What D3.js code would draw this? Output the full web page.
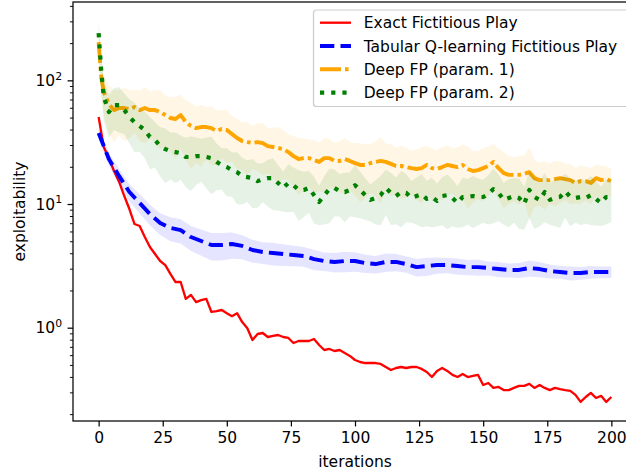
<!DOCTYPE html>
<html>
<head>
<meta charset="utf-8">
<script src="https://cdn.jsdelivr.net/npm/d3@7"></script>
<style>
	body { margin: 0; background: #fff; }
	text { font-family: "DejaVu Sans", sans-serif; }
</style>
</head>
<body>
<svg id="chart" width="626" height="474"></svg>
<script>
/* values */
const exactIters = d3.range(0, 201, 2);
const exactFP = [50.5, 28.9, 23.5, 18.5, 15.1, 11.6, 9.11, 6.89, 6.64, 5.41,
	4.49, 3.94, 3.46, 3.21, 2.72, 2.34, 2.34, 1.71, 1.84, 1.61,
	1.67, 1.71, 1.34, 1.36, 1.39, 1.31, 1.24, 1.31, 1.11, 0.99,
	0.795, 0.889, 0.906, 0.841, 0.857, 0.873, 0.841, 0.826, 0.752, 0.781,
	0.781, 0.781, 0.810, 0.725, 0.660, 0.673, 0.648, 0.660, 0.625, 0.591,
	0.548, 0.528, 0.518, 0.518, 0.518, 0.509, 0.481, 0.455, 0.472, 0.481,
	0.472, 0.481, 0.481, 0.464, 0.438, 0.399, 0.447, 0.472, 0.447, 0.415,
	0.399, 0.422, 0.399, 0.407, 0.415, 0.344, 0.357, 0.326, 0.332, 0.313,
	0.313, 0.326, 0.338, 0.338, 0.351, 0.326, 0.344, 0.326, 0.313, 0.326,
	0.319, 0.313, 0.308, 0.286, 0.251, 0.275, 0.297, 0.270, 0.281, 0.251,
	0.275];

const tabularIters = d3.range(0, 201, 4);
const tabularQ = [37.5, 23.1, 16.8, 12.5, 10.2, 8.30, 7.02, 6.40, 6.16, 5.41,
	5.02, 4.66, 4.66, 4.75, 4.58, 4.25, 4.09, 4.02, 3.94, 3.87,
	3.80, 3.59, 3.46, 3.40, 3.46, 3.46, 3.33, 3.27, 3.40, 3.40,
	3.27, 3.09, 3.15, 3.21, 3.21, 3.15, 3.09, 3.09, 3.04, 2.98,
	2.93, 2.93, 3.04, 2.98, 2.87, 2.82, 2.77, 2.77, 2.82, 2.82,
	2.82];
// std relative to the mean
const tabularSpread = [.10, .12, .14, .16, .18, .19, .20, .22, .22, .23,
	.24, .25, .25, .24, .22, .21, .20, .21, .20, .19,
	.18, .19, .17, .18, .19, .18, .17, .16, .17, .16,
	.15, .16, .17, .15, .14, .15, .14, .15, .13, .14,
	.13, .14, .15, .14, .13, .12, .13, .12, .12, .11,
	.11];

const deepIters = [0, 1].concat(d3.range(2, 201, 2));
const deepFP1 = [204, 106, 80.4, 64.3, 57.5, 59.7, 59.7, 58.6, 60.8, 57.5,
	59.7, 57.5, 57.5, 55.4, 52.4, 49.6, 48.7, 52.4, 46.0, 42.7,
	41.1, 41.9, 41.9, 41.1, 38.9, 40.4, 39.7, 36.8, 34.2, 32.3,
	31.7, 31.1, 31.7, 31.1, 29.4, 28.9, 28.4, 27.8, 26.3, 24.4,
	23.1, 23.5, 23.5, 22.7, 21.9, 23.5, 23.5, 22.3, 22.3, 23.1,
	22.3, 21.4, 20.7, 20.7, 21.4, 21.9, 22.3, 21.9, 21.1, 20.3,
	20.3, 19.9, 19.5, 19.2, 19.5, 20.7, 19.5, 19.2, 19.9, 20.7,
	20.3, 19.9, 20.7, 19.2, 18.5, 18.8, 19.5, 20.3, 21.9, 19.5,
	17.8, 17.2, 17.2, 17.2, 17.5, 18.1, 16.2, 15.6, 15.6, 15.6,
	15.9, 16.2, 15.9, 15.6, 14.8, 15.3, 15.3, 14.8, 16.2, 15.6,
	15.9, 15.3];
const deepFP1Spread = [.30, .32, .36, .42, .45, .40, .46, .42, .38, .44,
	.48, .41, .45, .50, .44, .47, .52, .46, .50, .55,
	.48, .52, .45, .50, .47, .42, .46, .40, .44, .41,
	.46, .38, .42, .45, .40, .44, .48, .43, .40, .45,
	.49, .44, .41, .46, .42, .47, .43, .40, .44, .48,
	.42, .45, .50, .46, .43, .47, .55, .40, .45, .41,
	.46, .43, .39, .44, .48, .42, .45, .41, .46, .43,
	.40, .44, .47, .52, .45, .42, .46, .43, .40, .44,
	.48, .42, .39, .43, .40, .58, .41, .38, .42, .36,
	.40, .37, .33, .36, .32, .35, .30, .33, .28, .31,
	.27, .25];

const deepFP2 = [241, 121, 73.3, 55.4, 63.1, 63.1, 57.5, 50.5, 46.0, 42.7,
	39.7, 34.8, 32.9, 29.4, 27.8, 26.8, 26.3, 25.8, 24.0, 24.0,
	24.4, 24.4, 24.0, 23.5, 21.9, 20.7, 19.9, 18.8, 18.1, 16.8,
	16.5, 16.2, 15.3, 15.9, 16.2, 16.2, 14.8, 13.5, 14.8, 14.2,
	13.0, 13.0, 13.5, 11.8, 10.4, 11.8, 13.2, 13.5, 12.7, 12.5,
	13.0, 14.2, 13.0, 11.8, 10.8, 11.2, 11.8, 13.5, 12.3, 11.6,
	12.5, 12.3, 11.2, 11.6, 12.0, 11.0, 11.4, 10.6, 11.6, 11.8,
	11.2, 10.2, 11.4, 11.4, 11.6, 11.4, 11.4, 12.0, 13.2, 12.3,
	10.8, 11.2, 11.6, 11.2, 10.0, 13.0, 11.4, 10.8, 12.5, 10.8,
	11.2, 11.4, 12.7, 11.4, 11.2, 11.4, 11.2, 11.8, 11.0, 10.2,
	11.4, 11.4];
const deepFP2Spread = [.27, .30, .36, .38, .37, .40, .36, .39, .43, .38,
	.41, .45, .40, .43, .47, .41, .44, .39, .43, .47,
	.42, .38, .44, .49, .41, .37, .42, .39, .45, .41,
	.37, .43, .39, .35, .41, .45, .40, .36, .42, .39,
	.44, .40, .37, .41, .35, .42, .47, .41, .38, .43,
	.39, .45, .41, .37, .33, .39, .43, .40, .45, .41,
	.48, .42, .37, .41, .46, .40, .43, .38, .42, .47,
	.41, .37, .43, .40, .45, .41, .38, .43, .47, .41,
	.37, .42, .39, .44, .38, .41, .45, .39, .43, .37,
	.41, .44, .39, .42, .37, .41, .38, .43, .39, .35,
	.40, .37];

const seriesNames = ["Exact Fictitious Play", "Tabular Q-learning Fictitious Play",
	"Deep FP (param. 1)", "Deep FP (param. 2)"];
const xTicks = [0, 25, 50, 75, 100, 125, 150, 175, 200];
const yTickExps = [0, 1, 2];

const pt = 1.55; // px per point in the picture
const fontSize = 10 * pt;

const series = [
	{name: seriesNames[0], xs: exactIters, ys: exactFP, spread: null, color: "#ff0000", width: 1.5 * pt, dash: null},
	{name: seriesNames[1], xs: tabularIters, ys: tabularQ, spread: tabularSpread, color: "#0000ff", width: 3.9, dash: "14.3,6.2"},
	{name: seriesNames[2], xs: deepIters, ys: deepFP1, spread: deepFP1Spread, color: "#ffa500", width: 3.9, dash: "21,4,3.6,4"},
	{name: seriesNames[3], xs: deepIters, ys: deepFP2, spread: deepFP2Spread, color: "#008000", width: 4.2, dash: "4.2,7"}
];

let svg = d3.select("#chart");
// axes box in px (right edge lies past the picture, as in the reference)
let m_left = 73, m_right = 637, m_top = 2, m_bottom = 421;

let x = d3.scaleLinear().domain([-10, 210]).range([m_left, m_right]);
let y = d3.scaleLog().domain([0.176, 430]).range([m_bottom, m_top]);

svg.append("defs").append("clipPath").attr("id", "plotclip")
	.append("rect").attr("x", m_left).attr("y", m_top).attr("width", m_right - m_left).attr("height", m_bottom - m_top);

let plot = svg.append("g").attr("clip-path", "url(#plotclip)");

series.forEach(s => {
	let pts = s.xs.map((it, i) => ({it: it, v: s.ys[i], r: s.spread ? s.spread[i] : 0}));
	let line = d3.line().x(d => x(d.it)).y(d => y(d.v));
	plot.append("path")
		.attr("d", line(pts))
		.attr("fill", "none")
		.attr("stroke", s.color)
		.attr("stroke-width", s.width)
		.attr("stroke-linejoin", "round")
		.attr("stroke-dasharray", s.dash);
	if (s.spread) {
		// band = mean +/- std
		let area = d3.area()
			.x(d => x(d.it))
			.y0(d => y(d.v * (1 - d.r)))
			.y1(d => y(d.v * (1 + d.r)));
		plot.append("path")
			.attr("d", area(pts))
			.attr("fill", s.color)
			.attr("fill-opacity", 0.1);
	}
});

// x axis
let xaxis = svg.append("g")
	.attr("transform", `translate(0, ${m_bottom})`)
	.call(d3.axisBottom(x).tickValues(xTicks).tickSize(3.5 * pt).tickPadding(3.5 * pt).tickSizeOuter(0));
xaxis.select(".domain").remove();
xaxis.selectAll("line").attr("stroke", "#000").attr("stroke-width", 0.8 * pt);
xaxis.selectAll("text").attr("font-size", fontSize).attr("fill", "#000")
	.attr("font-family", "DejaVu Sans, sans-serif");

// y axis: minor ticks
let minors = y.ticks().filter(v => Math.abs(Math.log10(v) - Math.round(Math.log10(v))) > 1e-6);
let yminor = svg.append("g")
	.attr("transform", `translate(${m_left}, 0)`)
	.call(d3.axisLeft(y).tickValues(minors).tickSize(2 * pt).tickFormat("").tickSizeOuter(0));
yminor.select(".domain").remove();
yminor.selectAll("line").attr("stroke", "#000").attr("stroke-width", 0.6 * pt);

// y axis: major ticks with 10^n labels
let ymajor = svg.append("g")
	.attr("transform", `translate(${m_left}, 0)`)
	.call(d3.axisLeft(y).tickValues(yTickExps.map(e => Math.pow(10, e))).tickSize(3.5 * pt).tickFormat("").tickSizeOuter(0));
ymajor.select(".domain").remove();
ymajor.selectAll("line").attr("stroke", "#000").attr("stroke-width", 0.8 * pt);

yTickExps.forEach(e => {
	let ty = y(Math.pow(10, e));
	let t = svg.append("text")
		.attr("x", m_left - 7 * pt)
		.attr("y", ty + 5.6)
		.attr("text-anchor", "end")
		.attr("font-size", fontSize)
		.attr("fill", "#000");
	t.append("tspan").text("10");
	t.append("tspan").attr("font-size", fontSize * 0.7).attr("dy", -6.3).text(e);
});

// spines
svg.append("rect")
	.attr("x", m_left).attr("y", m_top)
	.attr("width", m_right - m_left).attr("height", m_bottom - m_top)
	.attr("fill", "none").attr("stroke", "#000").attr("stroke-width", 0.8 * pt);

// axis labels
svg.append("text")
	.attr("x", (m_left + m_right) / 2).attr("y", 467)
	.attr("text-anchor", "middle").attr("font-size", fontSize)
	.text("iterations");
svg.append("text")
	.attr("transform", `translate(25, ${(m_top + m_bottom) / 2}) rotate(-90)`)
	.attr("text-anchor", "middle").attr("font-size", fontSize)
	.text("exploitability");

// legend
let legend = svg.append("g");
legend.append("rect")
	.attr("x", 313.5).attr("y", 10)
	.attr("width", 320).attr("height", 96.5)
	.attr("rx", 0.2 * fontSize)
	.attr("fill", "#fff").attr("fill-opacity", 0.8)
	.attr("stroke", "#cccccc").attr("stroke-width", 0.8 * pt);

series.forEach((s, i) => {
	let ly = 22.7 + 23.3 * i;
	legend.append("line")
		.attr("x1", 320).attr("x2", 351)
		.attr("y1", ly).attr("y2", ly)
		.attr("stroke", s.color)
		.attr("stroke-width", s.width)
		.attr("stroke-dasharray", s.dash);
	legend.append("text")
		.attr("x", 363.7).attr("y", ly + 5.6)
		.attr("font-size", fontSize)
		.text(s.name);
});
</script>
</body>
</html>
